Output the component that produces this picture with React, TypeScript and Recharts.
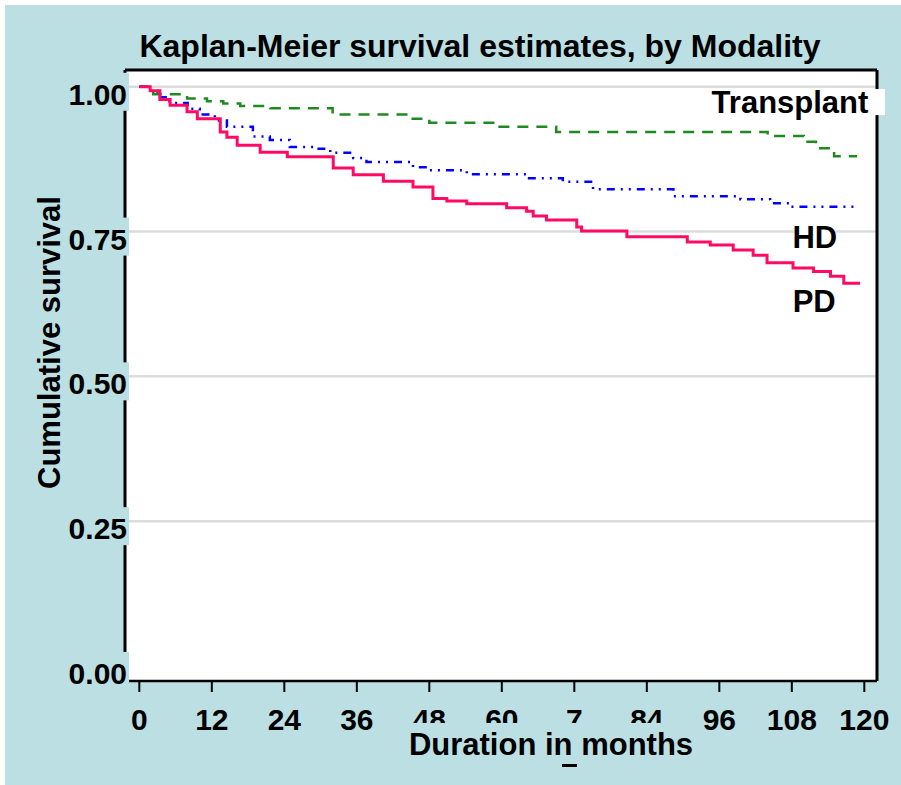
import React from 'react';
import {
  LineChart, Line, XAxis, YAxis, CartesianGrid, ReferenceLine, ReferenceDot,
} from 'recharts';

// ---- data ----
const transplantMonths = [0, 2.3, 7.9, 11.2, 13.9, 16.7, 21.7, 32, 45, 48, 59, 69, 104, 110, 112, 115, 118.8];
const transplantSurv = [1.0, 0.987, 0.98, 0.975, 0.971, 0.967, 0.963, 0.952, 0.945, 0.938, 0.931, 0.922, 0.915, 0.905, 0.894, 0.88, 0.88];

const hdMonths = [0, 1.5, 3, 5, 8, 10, 12.5, 14.5, 18.8, 21.6, 24.9, 29, 31.6, 35.4, 37.6, 45.3, 48.1, 54.2, 64.2, 70.1, 75.1, 88.4, 99.5, 104.4, 107.7, 118.9];
const hdSurv = [1.0, 0.993, 0.982, 0.972, 0.962, 0.952, 0.942, 0.931, 0.914, 0.908, 0.896, 0.893, 0.886, 0.877, 0.87, 0.861, 0.856, 0.849, 0.842, 0.836, 0.823, 0.811, 0.806, 0.799, 0.793, 0.793];

const pdMonths = [0, 1.8, 3.4, 5.1, 7.9, 9.6, 13.4, 14.5, 16.2, 20.0, 24.5, 32.1, 35.4, 40.4, 45.3, 48.6, 50.9, 54.2, 60.8, 64.1, 65.2, 67.4, 72.4, 73.2, 80.7, 90.7, 94.5, 98.3, 101.6, 103.9, 108.2, 111.6, 114.4, 116.6, 119.3];
const pdSurv = [1.0, 0.993, 0.978, 0.968, 0.957, 0.945, 0.922, 0.913, 0.899, 0.887, 0.879, 0.86, 0.848, 0.837, 0.827, 0.807, 0.803, 0.798, 0.791, 0.785, 0.777, 0.77, 0.758, 0.751, 0.741, 0.732, 0.727, 0.718, 0.709, 0.696, 0.687, 0.681, 0.673, 0.661, 0.661];

const xTicks = [0, 12, 24, 36, 48, 60, 72, 84, 96, 108, 120];
const xTickLabels = ['0', '12', '24', '36', '48', '60', '7', '84', '96', '108', '120'];
const yTicks = [0, 0.25, 0.5, 0.75, 1.0];
const yTickLabels = ['0.00', '0.25', '0.50', '0.75', '1.00'];
const gridValues = [0.25, 0.5, 0.75, 1.0];

const seriesNames = ['Transplant', 'HD', 'PD'];
const titleText = 'Kaplan-Meier survival estimates, by Modality';
const xTitle = 'Duration in months';
const yTitle = 'Cumulative survival';

const toRows = (m: number[], s: number[]) => m.map((t, i) => ({ t, s: s[i] }));
const transplantData = toRows(transplantMonths, transplantSurv);
const hdData = toRows(hdMonths, hdSurv);
const pdData = toRows(pdMonths, pdSurv);

// ---- style ----
const BG = '#bbdfe2';
const FONT = '"Liberation Sans", Arial, Helvetica, sans-serif';
const X_DOMAIN: [number, number] = [-2.37, 122.1];
const Y_DOMAIN: [number, number] = [-0.026, 1.029];

const XTick = (props: any) => {
  const { x, y, payload } = props;
  const label = xTickLabels[xTicks.indexOf(payload.value)] ?? String(payload.value);
  return (
    <text x={x} y={y + 36} textAnchor="middle" fontFamily={FONT} fontWeight="bold" fontSize={30} fill="#000">
      {label}
    </text>
  );
};

const YTick = (props: any) => {
  const { x, y, payload } = props;
  const label = yTickLabels[yTicks.indexOf(payload.value)] ?? String(payload.value);
  return (
    <g>
      <rect x={x - 58} y={y - 14} width={62} height={38} fill={BG} />
      <text x={x + 2} y={y + 18} textAnchor="end" fontFamily={FONT} fontWeight="bold" fontSize={30} fill="#000">
        {label}
      </text>
    </g>
  );
};

const YLabel = (props: any) => {
  const vb = props.viewBox || { x: 0, y: 70, width: 125, height: 611 };
  const cx = vb.x + 60;
  const cy = vb.y + vb.height / 2 - 33;
  return (
    <text
      x={cx} y={cy}
      transform={`rotate(-90 ${cx} ${cy})`}
      textAnchor="middle" fontFamily={FONT} fontWeight="bold" fontSize={31} fill="#000"
    >
      {yTitle}
    </text>
  );
};

const makeTag = (text: string, fs: number) => (p: any) => {
  const { cx, cy } = p;
  const w = text.length * fs * 0.6;
  return (
    <g>
      <rect x={cx - w / 2 - 2} y={cy - fs * 0.42} width={w + 4} height={fs * 0.84} fill="#fff" />
      <text x={cx} y={cy + fs * 0.36} textAnchor="middle" fontFamily={FONT} fontWeight="bold" fontSize={fs} fill="#000">
        {text}
      </text>
    </g>
  );
};

const gridGen = (args: any) => {
  const off = args.offset || { top: 70, height: 611 };
  const span = Y_DOMAIN[1] - Y_DOMAIN[0];
  return gridValues.map((v) => off.top + (off.height * (Y_DOMAIN[1] - v)) / span);
};

export default function App() {
  return (
    <div style={{ position: 'absolute', left: 0, top: 0, width: 901, height: 785, background: '#fff', overflow: 'hidden' }}>
      <div style={{ position: 'absolute', left: 5, top: 5, width: 896, height: 780, background: BG }} />
      <div style={{ position: 'absolute', left: 0, top: 0 }}>
        <LineChart width={901} height={785} margin={{ top: 70, right: 24, left: 0, bottom: 0 }}>
          <CartesianGrid
            vertical={false}
            fill="#fff"
            fillOpacity={1}
            stroke="#dcdcdc"
            strokeWidth={2.5}
            horizontalCoordinatesGenerator={gridGen}
          />
          <XAxis
            type="number"
            dataKey="t"
            domain={X_DOMAIN}
            allowDataOverflow
            ticks={xTicks}
            interval={0}
            height={104}
            axisLine={{ stroke: '#000', strokeWidth: 2.5 }}
            tickLine={{ stroke: '#000', strokeWidth: 2 }}
            tickSize={11}
            tick={<XTick />}
          />
          <YAxis
            type="number"
            dataKey="s"
            domain={Y_DOMAIN}
            allowDataOverflow
            ticks={yTicks}
            interval={0}
            width={125}
            axisLine={{ stroke: '#000', strokeWidth: 3 }}
            tickLine={false}
            tickSize={0}
            tickMargin={0}
            tick={<YTick />}
            label={<YLabel />}
          />
          <ReferenceLine y={Y_DOMAIN[1]} stroke="#000" strokeWidth={3} />
          <ReferenceLine x={X_DOMAIN[1]} stroke="#000" strokeWidth={3} />
          <Line data={transplantData} dataKey="s" name={seriesNames[0]} type="stepAfter" stroke="#1f8a1f" strokeWidth={2.5} strokeDasharray="11 8" dot={false} isAnimationActive={false} />
          <Line data={hdData} dataKey="s" name={seriesNames[1]} type="stepAfter" stroke="#0000ff" strokeWidth={2.5} strokeDasharray="8 6 2 6 2 6" dot={false} isAnimationActive={false} />
          <Line data={pdData} dataKey="s" name={seriesNames[2]} type="stepAfter" stroke="#ff0a64" strokeWidth={3} dot={false} isAnimationActive={false} />
          <ReferenceDot x={107.7} y={0.9736} r={0} ifOverflow="visible" shape={makeTag(seriesNames[0], 31)} />
          <ReferenceDot x={111.8} y={0.7405} r={0} ifOverflow="visible" shape={makeTag(seriesNames[1], 31)} />
          <ReferenceDot x={111.7} y={0.63} r={0} ifOverflow="visible" shape={makeTag(seriesNames[2], 31)} />
        </LineChart>
      </div>
      <svg width={901} height={785} style={{ position: 'absolute', left: 0, top: 0, pointerEvents: 'none' }}>
        <text x={480} y={57} textAnchor="middle" fontFamily={FONT} fontWeight="bold" fontSize={32} fill="#000">
          {titleText}
        </text>
        <rect x={400} y={723} width={302} height={48} fill={BG} />
        <text x={551} y={755} textAnchor="middle" fontFamily={FONT} fontWeight="bold" fontSize={31} fill="#000">
          {xTitle}
        </text>
        <rect x={562} y={764} width={15} height={3} fill="#000" />
      </svg>
    </div>
  );
}
